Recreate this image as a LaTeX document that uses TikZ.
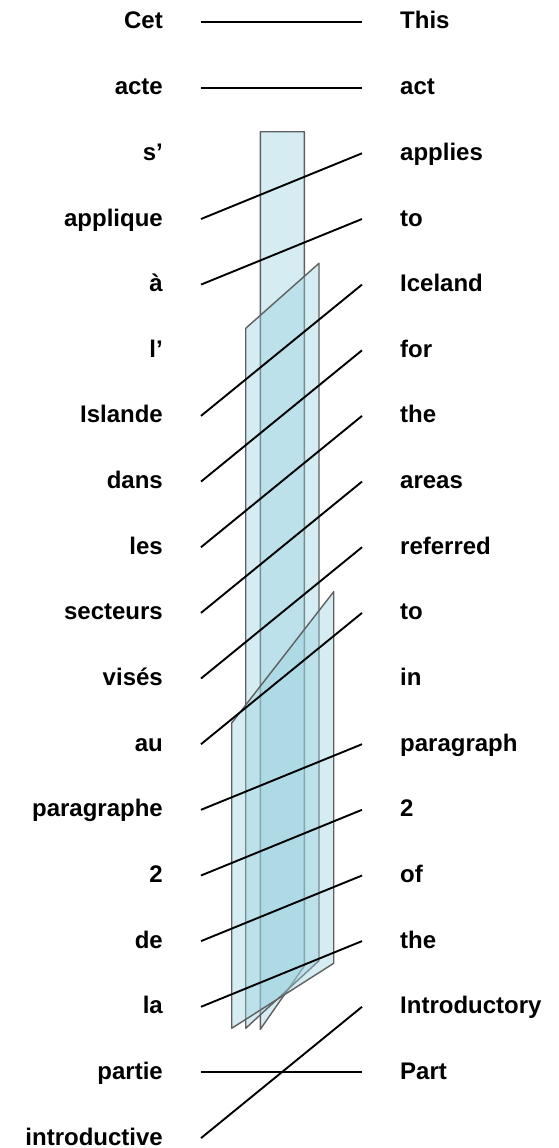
\documentclass[tikz,border=0pt]{standalone}
\usepackage{fontspec}
\setmainfont{Liberation Sans}
\definecolor{planefill}{RGB}{150,208,222}
\definecolor{planeedge}{RGB}{95,95,95}
\tikzset{
  fr/.style={anchor=base east, inner sep=0pt, font=\fontsize{24}{28}\selectfont\bfseries},
  en/.style={anchor=base west, inner sep=0pt, font=\fontsize{24}{28}\selectfont\bfseries},
  plane/.style={draw=planeedge, line width=1.4pt, fill=planefill, fill opacity=0.4, line join=round},
  link/.style={line width=1.9pt, black}
}

\begin{document}
\begin{tikzpicture}[x=1pt, y=-1pt]
\useasboundingbox (0,0) rectangle (559,1148);

% phrase planes
\draw[plane] (260.3,131.7) -- (304.3,131.7) -- (304.3,966) -- (260.3,1029.3) -- cycle;
\draw[plane] (245.7,328.3) -- (319,263.3) -- (319,960.7) -- (245.7,1028.3) -- cycle;
\draw[plane] (231.7,723) -- (333.7,591.7) -- (333.7,963.3) -- (231.7,1028.3) -- cycle;

% french words
\node[fr] (fr0) at (163,29) {Cet};
\node[fr] (fr1) at (163,94.7) {acte};
\node[fr] (fr2) at (163,160.3) {s'};
\node[fr] (fr3) at (163,226) {applique};
\node[fr] (fr4) at (163,291.6) {à};
\node[fr] (fr5) at (163,357.3) {l'};
\node[fr] (fr6) at (163,422.9) {Islande};
\node[fr] (fr7) at (163,488.6) {dans};
\node[fr] (fr8) at (163,554.2) {les};
\node[fr] (fr9) at (163,619.9) {secteurs};
\node[fr] (fr10) at (163,685.5) {visés};
\node[fr] (fr11) at (163,751.2) {au};
\node[fr] (fr12) at (163,816.8) {paragraphe};
\node[fr] (fr13) at (163,882.5) {2};
\node[fr] (fr14) at (163,948.1) {de};
\node[fr] (fr15) at (163,1013.8) {la};
\node[fr] (fr16) at (163,1079.4) {partie};
\node[fr] (fr17) at (163,1145.1) {introductive};

% english words
\node[en] (en0) at (400,29) {This};
\node[en] (en1) at (400,94.7) {act};
\node[en] (en2) at (400,160.3) {applies};
\node[en] (en3) at (400,226) {to};
\node[en] (en4) at (400,291.6) {Iceland};
\node[en] (en5) at (400,357.3) {for};
\node[en] (en6) at (400,422.9) {the};
\node[en] (en7) at (400,488.6) {areas};
\node[en] (en8) at (400,554.2) {referred};
\node[en] (en9) at (400,619.9) {to};
\node[en] (en10) at (400,685.5) {in};
\node[en] (en11) at (400,751.2) {paragraph};
\node[en] (en12) at (400,816.8) {2};
\node[en] (en13) at (400,882.5) {of};
\node[en] (en14) at (400,948.1) {the};
\node[en] (en15) at (400,1013.8) {Introductory};
\node[en] (en16) at (400,1079.4) {Part};

% link ends
\coordinate (a0) at (201,22);
\coordinate (a1) at (201,87.7);
\coordinate (a3) at (201,219);
\coordinate (a4) at (201,284.6);
\coordinate (a6) at (201,415.9);
\coordinate (a7) at (201,481.6);
\coordinate (a8) at (201,547.2);
\coordinate (a9) at (201,612.9);
\coordinate (a10) at (201,678.5);
\coordinate (a11) at (201,744.2);
\coordinate (a12) at (201,809.8);
\coordinate (a13) at (201,875.5);
\coordinate (a14) at (201,941.1);
\coordinate (a15) at (201,1006.8);
\coordinate (a16) at (201,1072.4);
\coordinate (a17) at (201,1138.1);
\coordinate (b0) at (362,22);
\coordinate (b1) at (362,87.7);
\coordinate (b2) at (362,153.3);
\coordinate (b3) at (362,219);
\coordinate (b4) at (362,284.6);
\coordinate (b5) at (362,350.3);
\coordinate (b6) at (362,415.9);
\coordinate (b7) at (362,481.6);
\coordinate (b8) at (362,547.2);
\coordinate (b9) at (362,612.9);
\coordinate (b11) at (362,744.2);
\coordinate (b12) at (362,809.8);
\coordinate (b13) at (362,875.5);
\coordinate (b14) at (362,941.1);
\coordinate (b15) at (362,1006.8);
\coordinate (b16) at (362,1072.4);

% alignment links
\draw[link] (a0) -- (b0);
\draw[link] (a1) -- (b1);
\draw[link] (a3) -- (b2);
\draw[link] (a4) -- (b3);
\draw[link] (a6) -- (b4);
\draw[link] (a7) -- (b5);
\draw[link] (a8) -- (b6);
\draw[link] (a9) -- (b7);
\draw[link] (a10) -- (b8);
\draw[link] (a11) -- (b9);
\draw[link] (a12) -- (b11);
\draw[link] (a13) -- (b12);
\draw[link] (a14) -- (b13);
\draw[link] (a15) -- (b14);
\draw[link] (a16) -- (b16);
\draw[link] (a17) -- (b15);
\end{tikzpicture}
\end{document}
